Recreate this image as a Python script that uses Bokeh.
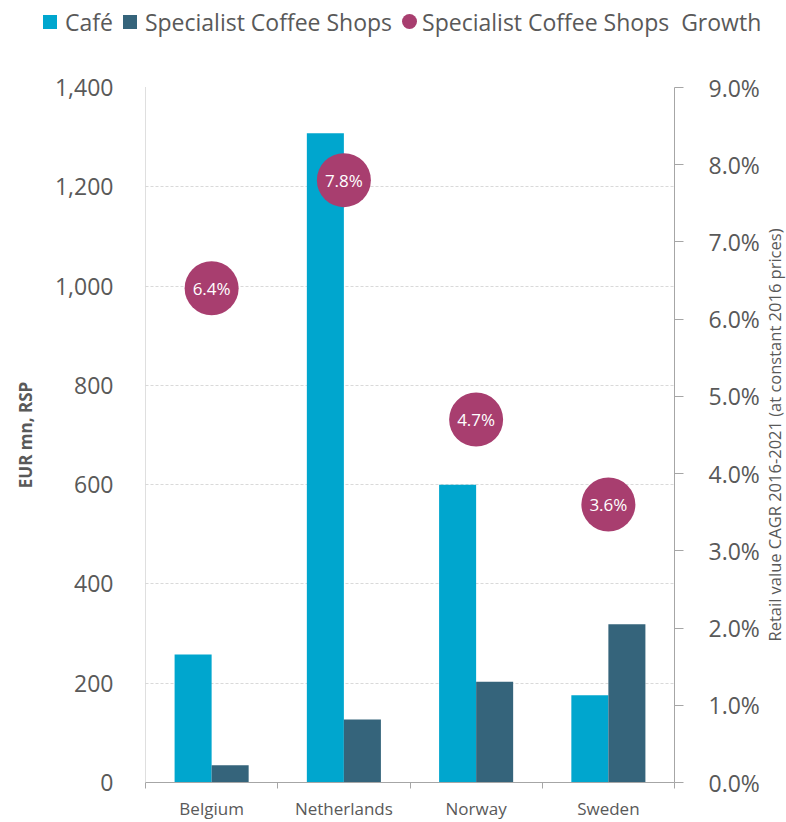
from bokeh.plotting import figure
from bokeh.layouts import row, column
from bokeh.models import (Range1d, LinearAxis, FixedTicker, NumeralTickFormatter,
                          PrintfTickFormatter, ColumnDataSource, Label, Div)
from bokeh.transform import dodge
from bokeh.core.properties import value
from bokeh.embed import file_html
from bokeh.resources import INLINE

# ---- data ----
countries = ["Belgium", "Netherlands", "Norway", "Sweden"]
cafe = [258, 1308, 600, 176]
specialist = [35, 127, 203, 319]
growth_pct = [6.4, 7.8, 4.7, 3.6]
left_ticks = [0, 200, 400, 600, 800, 1000, 1200, 1400]
right_ticks = [0, 1, 2, 3, 4, 5, 6, 7, 8, 9]
series_names = ["Café", "Specialist Coffee Shops", "Specialist Coffee Shops  Growth"]
left_title = "EUR mn, RSP"
right_title = "Retail value CAGR 2016-2021 (at constant 2016 prices)"

FONT = "Open Sans"
CAFE = "#00A6CE"
SPEC = "#35647B"
BUBBLE = "#A83E6F"
TXT = "#595959"
AXIS = "#A6A6A6"

LH = 40                      # legend strip height
TW = 24                      # strip holding the right-hand axis title
W, H = 786 - TW, 822 - LH
FL, FR, FT, FB = 145, 675, 87 - LH, 785 - LH  # frame edges in main-figure px

n = len(countries)
centers = [i + 0.5 for i in range(n)]      # category slots on a 0..n axis
boundaries = list(range(n + 1))

# ---------------- main chart ----------------
p = figure(x_range=Range1d(0, n), y_range=Range1d(left_ticks[0], left_ticks[-1]),
           width=W, height=H, output_backend="svg", toolbar_location=None,
           x_axis_location=None, y_axis_location="left",
           min_border_left=FL, min_border_right=W - FR, min_border_top=FT, min_border_bottom=H - FB)
p.outline_line_color = None
p.background_fill_color = "white"
p.border_fill_color = "white"

p.extra_y_ranges = {"pct": Range1d(right_ticks[0], right_ticks[-1])}

src = ColumnDataSource(dict(pos=centers, country=countries, cafe=cafe, specialist=specialist,
                            growth=growth_pct,
                            growth_label=[f"{g:.1f}%" for g in growth_pct]))

bw = 0.28
p.vbar(x=dodge("pos", -bw / 2), top="cafe", width=bw, source=src,
       fill_color=CAFE, line_color=None)
p.vbar(x=dodge("pos", bw / 2), top="specialist", width=bw, source=src,
       fill_color=SPEC, line_color=None)
p.ellipse(x="pos", y="growth", y_range_name="pct", width=54, height=54,
          width_units="screen", height_units="screen", source=src,
          fill_color=BUBBLE, line_color=None)
p.text(x="pos", y="growth", text="growth_label", y_range_name="pct", source=src,
       text_align="center", text_baseline="middle", text_color="white",
       text_font=value(FONT), text_font_size="17px")

# left axis
ya = p.yaxis[0]
ya.ticker = FixedTicker(ticks=left_ticks)
ya.formatter = NumeralTickFormatter(format="0,0")
ya.axis_line_color = "#BFBFBF"
ya.axis_line_dash = "1 1"
ya.major_tick_line_color = None
ya.minor_tick_line_color = None
ya.major_label_text_font = FONT
ya.major_label_text_font_size = "23px"
ya.major_label_text_color = TXT
ya.major_label_standoff = 26
ya.axis_label = left_title
ya.axis_label_text_font = FONT
ya.axis_label_text_font_size = "17px"
ya.axis_label_text_font_style = "bold"
ya.axis_label_text_color = TXT
ya.axis_label_standoff = 15

p.ygrid[0].ticker = FixedTicker(ticks=left_ticks)
p.ygrid[0].grid_line_color = "#D9D9D9"
p.ygrid[0].grid_line_dash = "3 2"
p.xgrid.visible = False

# right axis
ra = LinearAxis(y_range_name="pct", ticker=FixedTicker(ticks=right_ticks),
                formatter=PrintfTickFormatter(format="%.1f%%"))
ra.axis_line_color = AXIS
ra.major_tick_line_color = AXIS
ra.major_tick_in = 0
ra.major_tick_out = 9
ra.minor_tick_line_color = None
ra.major_label_text_font = FONT
ra.major_label_text_font_size = "23px"
ra.major_label_text_color = TXT
ra.major_label_standoff = 25
p.add_layout(ra, "right")

# bottom axis: names at slot centres, tick marks at slot boundaries
ca = LinearAxis(ticker=FixedTicker(ticks=centers, minor_ticks=boundaries),
                major_label_overrides={c: name for c, name in zip(centers, countries)})
ca.axis_line_color = AXIS
ca.major_tick_line_color = None
ca.major_tick_in = 0
ca.major_tick_out = 0
ca.minor_tick_line_color = AXIS
ca.minor_tick_in = 0
ca.minor_tick_out = 6
ca.major_label_text_font = FONT
ca.major_label_text_font_size = "17px"
ca.major_label_text_color = TXT
ca.major_label_standoff = 8
p.add_layout(ca, "below")

# ---------------- right-hand axis title strip ----------------
tf = figure(width=TW, height=H, output_backend="svg", toolbar_location=None,
            x_range=Range1d(0, 1), y_range=Range1d(0, 1),
            x_axis_location=None, y_axis_location=None, min_border=0)
tf.outline_line_color = None
tf.grid.visible = False
tf.background_fill_color = "white"
tf.border_fill_color = "white"
tf.add_layout(Label(x=0.5, y=0.5, text=right_title, angle=90, angle_units="deg",
                    text_align="center", text_baseline="middle",
                    text_font=FONT, text_font_size="16.5px", text_color=TXT))

# ---------------- legend strip ----------------
swatch = ("display:inline-block;width:14px;height:14px;vertical-align:middle;"
          "margin-right:8px;background:{c};{extra}")
items = [(series_names[0], CAFE, ""), (series_names[1], SPEC, ""),
         (series_names[2], BUBBLE, "border-radius:50%;width:15px;height:15px;margin-right:5px;")]
parts = []
for i, (name, col, extra) in enumerate(items):
    lead = "" if i == 0 else "margin-left:10px;"
    parts.append(f'<span style="{lead}{swatch.format(c=col, extra=extra)}"></span>'
                 f'<span style="vertical-align:middle">{name}</span>')
html = (f'<div style="font-family:\'{FONT}\';font-size:23px;color:{TXT};white-space:pre;'
        f'height:{LH}px;line-height:{LH - 2}px;padding-left:43px;margin:0;overflow:hidden">'
        + "".join(parts) + "</div>")
legend_div = Div(text=html, width=786, height=LH, margin=(0, 0, 0, 0))

layout = column(legend_div, row(p, tf, spacing=0), spacing=0)
open("out.html", "w").write(file_html(layout, INLINE))
